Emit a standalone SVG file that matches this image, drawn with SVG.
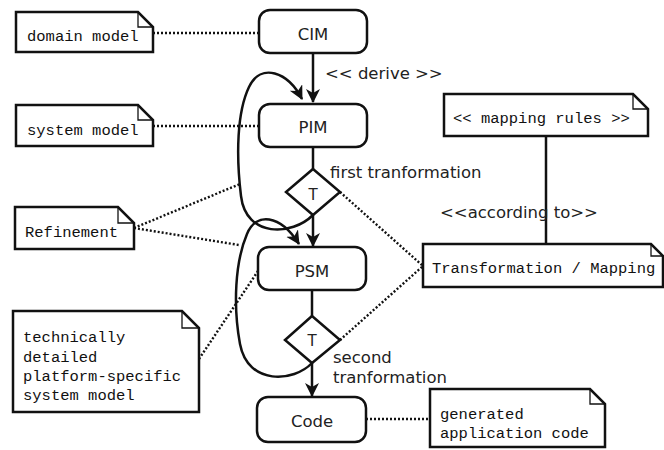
<svg xmlns="http://www.w3.org/2000/svg" width="664" height="450" viewBox="0 0 664 450">
  <style>
    .box { fill: #fff; stroke: #111; stroke-width: 2.5; }
    .note { fill: #fff; stroke: #111; stroke-width: 2.5; stroke-linejoin: miter; }
    .fold { fill: none; stroke: #111; stroke-width: 1.3; }
    .flow { fill: none; stroke: #111; stroke-width: 2.5; }
    .dot { fill: none; stroke: #111; stroke-width: 2.4; stroke-dasharray: 2 2; }
    .solid { fill: none; stroke: #111; stroke-width: 2.5; }
    .lbl { font-family: "DejaVu Sans", Verdana, sans-serif; font-size: 16.5px; fill: #222; }
    .tl { font-family: "DejaVu Sans", Verdana, sans-serif; font-size: 15px; fill: #222; text-anchor: middle; }
    .mono { font-family: "Liberation Mono", "Courier New", monospace; font-size: 15.5px; fill: #111; }
    .mid { text-anchor: middle; }
  </style>
  <defs>
    <marker id="arrow" markerUnits="userSpaceOnUse" markerWidth="16" markerHeight="16" refX="13" refY="7" orient="auto">
      <path d="M0,0 L14,7 L0,14 L4,7 z" fill="#111"/>
    </marker>
  </defs>
  <rect width="664" height="450" fill="#fff"/>

  <!-- connectors -->
  <g id="connectors">
    <!-- main flow -->
    <path class="flow" d="M313,53 V102" marker-end="url(#arrow)"/>
    <path class="flow" d="M313,147 V169"/>
    <path class="flow" d="M313,215 V246" marker-end="url(#arrow)"/>
    <path class="flow" d="M312,290 V316"/>
    <path class="flow" d="M312,363 V396" marker-end="url(#arrow)"/>
    <!-- refinement loops -->
    <path class="flow" d="M313,215 C292,236 246,238 241,196 C236,155 237,112 249,87 C261,62 288,72 302,99" marker-end="url(#arrow)"/>
    <path class="flow" d="M312,363 C294,382 248,386 240,344 C233,306 235,262 247,234 C256,212 280,214 299,244" marker-end="url(#arrow)"/>
    <!-- note links -->
    <path class="dot" d="M153,33 H259"/>
    <path class="dot" d="M153,126 H259"/>
    <path class="dot" d="M134,228 L240,184"/>
    <path class="dot" d="M134,228 L239,245"/>
    <path class="dot" d="M199,359 L258,271"/>
    <path class="dot" d="M340,192 L423,266"/>
    <path class="dot" d="M340,340 L423,266"/>
    <path class="dot" d="M366,419 H430"/>
    <path class="solid" d="M546,136 V244"/>
  </g>

  <!-- model nodes -->
  <g id="cim">
    <rect class="box" x="259" y="10" width="108" height="43" rx="11"/>
    <text class="lbl mid" x="313" y="40">CIM</text>
  </g>
  <g id="pim">
    <rect class="box" x="259" y="104" width="108" height="43" rx="11"/>
    <text class="lbl mid" x="313" y="133">PIM</text>
  </g>
  <g id="psm">
    <rect class="box" x="258" y="247" width="108" height="43" rx="11"/>
    <text class="lbl mid" x="312" y="277">PSM</text>
  </g>
  <g id="code">
    <rect class="box" x="257" y="397" width="109" height="45" rx="11"/>
    <text class="lbl mid" x="312" y="427">Code</text>
  </g>

  <!-- transformation steps -->
  <g id="t1">
    <path class="box" d="M313,169 L340,192 L313,215 L286,192 Z"/>
    <text class="tl" x="313" y="200">T</text>
  </g>
  <g id="t2">
    <path class="box" d="M312,316 L340,340 L312,363 L285,340 Z"/>
    <text class="tl" x="312" y="346">T</text>
  </g>

  <!-- connector labels -->
  <g id="labels">
    <text class="lbl" x="325" y="79">&lt;&lt; derive &gt;&gt;</text>
    <text class="lbl" x="330" y="178">first tranformation</text>
    <text class="lbl" x="333" y="363">second</text>
    <text class="lbl" x="333" y="383">tranformation</text>
    <text class="lbl" x="440" y="218">&lt;&lt;according to&gt;&gt;</text>
  </g>

  <!-- notes -->
  <g id="note-domain">
    <path class="note" d="M16,12 H138 L153,27 V52 H16 Z"/>
    <path class="fold" d="M138,12 V27 H153"/>
    <text class="mono" x="27" y="41">domain model</text>
  </g>
  <g id="note-system">
    <path class="note" d="M16,105 H138 L153,120 V146 H16 Z"/>
    <path class="fold" d="M138,105 V120 H153"/>
    <text class="mono" x="27" y="135">system model</text>
  </g>
  <g id="note-refinement">
    <path class="note" d="M15,207 H118 L134,223 V249 H15 Z"/>
    <path class="fold" d="M118,207 V223 H134"/>
    <text class="mono" x="25" y="237">Refinement</text>
  </g>
  <g id="note-platform">
    <path class="note" d="M13,311 H182 L199,328 V412 H13 Z"/>
    <path class="fold" d="M182,311 V328 H199"/>
    <text class="mono" x="23" y="342">technically</text>
    <text class="mono" x="23" y="362">detailed</text>
    <text class="mono" x="23" y="381">platform-specific</text>
    <text class="mono" x="23" y="400">system model</text>
  </g>
  <g id="note-generated">
    <path class="note" d="M430,389 H590 L605,404 V447 H430 Z"/>
    <path class="fold" d="M590,389 V404 H605"/>
    <text class="mono" x="440" y="419">generated</text>
    <text class="mono" x="440" y="438">application code</text>
  </g>
  <g id="note-rules">
    <path class="note" d="M444,94 H633 L648,109 V136 H444 Z"/>
    <path class="fold" d="M633,94 V109 H648"/>
    <text class="mono" x="453" y="123">&lt;&lt; mapping rules &gt;&gt;</text>
  </g>
  <g id="note-transformation">
    <path class="note" d="M423,244 H651 L663,256 V287 H423 Z"/>
    <path class="fold" d="M651,244 V256 H663"/>
    <text class="mono" x="432" y="273">Transformation / Mapping</text>
  </g>
</svg>
